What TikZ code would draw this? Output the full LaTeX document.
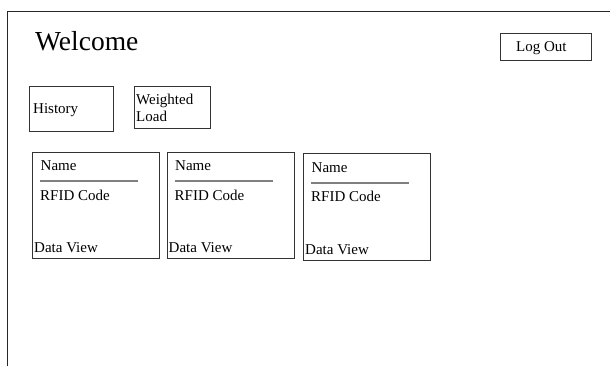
\documentclass[tikz,border=0pt]{standalone}
\usepackage{fontspec}
\setmainfont{Liberation Serif}
\begin{document}
\begin{tikzpicture}[x=1pt,y=-1pt,
  box/.style={draw=black!80,line width=1.1pt,inner sep=0pt,anchor=north west},
  txt/.style={inner sep=0pt,anchor=base west,font=\fontsize{15}{17}\selectfont},
  sep/.style={draw=black!50,line width=2pt}]
\useasboundingbox (0,0) rectangle (610,365);
\draw[line width=1pt,black!85] (7,366) -- (7,11) -- (611,11);
\node[inner sep=0pt,anchor=base west,font=\fontsize{27.5}{31}\selectfont] (welcome) at (35,50.5) {Welcome};
% Log Out
\node[box,minimum width=91pt,minimum height=26.5pt] (logout) at (499.5,33) {};
\node[txt] (logouttxt) at (516,51.7) {Log Out};
% History
\node[box,minimum width=84.5pt,minimum height=45.5pt] (history) at (28.5,85.5) {};
\node[txt] (historytxt) at (33,113) {History};
% Weighted Load
\node[box,minimum width=76pt,minimum height=42pt] (weighted) at (133.5,86) {};
\node[txt,align=left,anchor=north west,font=\fontsize{15}{17}\selectfont] (weightedtxt) at (136,93.5) {Weighted\\Load};
% cards
\foreach \i/\x/\y in {1/32/151.5,2/166.5/151.5,3/303/153.3}{
  \node[box,minimum width=127pt,minimum height=106.5pt] (card\i) at (\x,\y) {};
  \node[txt] (name\i) at (\x+8.5,\y+19.3) {Name};
  \coordinate (la\i) at (\x+8,\y+29.5);
  \coordinate (lb\i) at (\x+106,\y+29.5);
  \draw[sep] (la\i) -- (lb\i);
  \node[txt] (rfid\i) at (\x+8,\y+48.5) {RFID Code};
  \node[txt] (dv\i) at (\x+2,\y+100.8) {Data View};
}
\end{tikzpicture}
\end{document}
